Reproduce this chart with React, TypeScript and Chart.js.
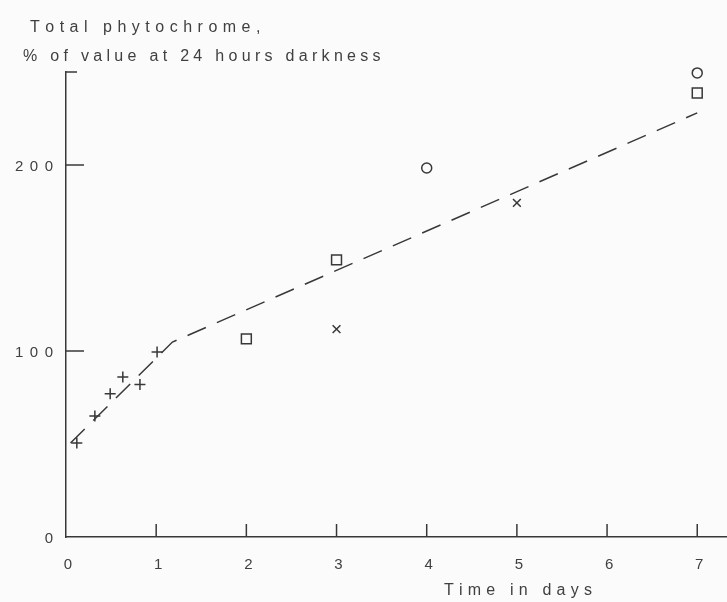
import { useEffect, useRef } from "react";
import { Chart, registerables } from "chart.js";

Chart.register(...registerables);

// ---- data ----
const xTickValues = [0, 1, 2, 3, 4, 5, 6, 7];
const xTickLabels = ["0", "1", "2", "3", "4", "5", "6", "7"];
const yTickValues = [0, 100, 200];
const yTickLabels = ["0", "100", "200"];
const xAxisMax = 7.33;
const yAxisMax = 250;

const plusX = [0.12, 0.32, 0.49, 0.63, 0.82, 1.01];
const plusY = [50.5, 65, 77, 86, 82, 99.5];
const squareX = [2, 3, 7];
const squareY = [106.5, 149, 238.7];
const circleX = [4, 7];
const circleY = [198.4, 249.5];
const crossX = [3, 5];
const crossY = [111.8, 179.6];
const trendX = [0.05, 1.18, 7];
const trendY = [50.5, 104.8, 228];

const titleLine1 = "Total phytochrome,";
const titleLine2 = "% of value at 24 hours darkness";
const xTitle = "Time in days";

const pts = (xs: number[], ys: number[]) => xs.map((x, i) => ({ x, y: ys[i] }));

const INK = "#383838";
const TEXT = "#404040";
const FONT = "'Liberation Sans', Arial, sans-serif";

function drawTracked(
  ctx: CanvasRenderingContext2D,
  text: string,
  x: number,
  y: number,
  tracking: number,
  align: "left" | "center" | "right"
) {
  const chars = Array.from(text);
  const widths = chars.map((c) => ctx.measureText(c).width);
  const total = widths.reduce((a, b) => a + b, 0) + tracking * (chars.length - 1);
  let cx = align === "left" ? x : align === "center" ? x - total / 2 : x - total;
  ctx.textAlign = "left";
  chars.forEach((c, i) => {
    ctx.fillText(c, cx, y);
    cx += widths[i] + tracking;
  });
}

const decorPlugin = {
  id: "decor",
  beforeDraw(chart: any) {
    const ctx = chart.ctx as CanvasRenderingContext2D;
    ctx.save();
    ctx.fillStyle = "#fbfbfb";
    ctx.fillRect(0, 0, chart.width, chart.height);
    ctx.restore();
  },
  afterDraw(chart: any) {
    const ctx = chart.ctx as CanvasRenderingContext2D;
    const xs = chart.scales.x;
    const ys = chart.scales.y;
    const area = chart.chartArea;
    ctx.save();
    ctx.strokeStyle = INK;
    ctx.lineWidth = 1.5;
    // inward x ticks
    xTickValues.forEach((v) => {
      if (v === 0) return;
      const px = xs.getPixelForValue(v);
      ctx.beginPath();
      ctx.moveTo(px, area.bottom);
      ctx.lineTo(px, area.bottom - 13);
      ctx.stroke();
    });
    // inward y ticks
    yTickValues.forEach((v) => {
      if (v === 0) return;
      const py = ys.getPixelForValue(v);
      ctx.beginPath();
      ctx.moveTo(area.left, py);
      ctx.lineTo(area.left + 18, py);
      ctx.stroke();
    });
    // top hook of y axis
    const pTop = ys.getPixelForValue(yAxisMax);
    ctx.beginPath();
    ctx.moveTo(area.left, pTop);
    ctx.lineTo(area.left + 11, pTop);
    ctx.stroke();

    // labels
    ctx.fillStyle = TEXT;
    ctx.textBaseline = "alphabetic";
    ctx.font = `15px ${FONT}`;
    xTickValues.forEach((v, i) => {
      const px = xs.getPixelForValue(v);
      drawTracked(ctx, xTickLabels[i], px + 2, area.bottom + 32, 6, "center");
    });
    yTickValues.forEach((v, i) => {
      const py = ys.getPixelForValue(v);
      drawTracked(ctx, yTickLabels[i], area.left - 13, py + 6, 6.5, "right");
    });
    ctx.font = `16px ${FONT}`;
    drawTracked(ctx, titleLine1, 30, 32, 5.5, "left");
    drawTracked(ctx, titleLine2, 23, 61, 4.3, "left");
    drawTracked(ctx, xTitle, 444, 595, 5.2, "left");
    ctx.restore();
  },
};

export default function App() {
  const ref = useRef<HTMLCanvasElement | null>(null);

  useEffect(() => {
    document.body.style.margin = "0";
    const canvas = ref.current;
    if (!canvas) return;
    const chart = new Chart(canvas, {
      type: "scatter",
      data: {
        datasets: [
          {
            type: "line",
            label: "trend",
            data: pts(trendX, trendY),
            borderColor: INK,
            borderWidth: 1.5,
            borderDash: [20, 12],
            pointRadius: 0,
            fill: false,
            tension: 0,
            clip: false,
          } as any,
          {
            label: "plus",
            data: pts(plusX, plusY),
            pointStyle: "cross",
            pointRadius: 5.5,
            borderColor: INK,
            backgroundColor: "transparent",
            borderWidth: 1.5,
            clip: false,
          } as any,
          {
            label: "square",
            data: pts(squareX, squareY),
            pointStyle: "rect",
            pointRadius: 7,
            borderColor: INK,
            backgroundColor: "transparent",
            borderWidth: 1.5,
            clip: false,
          } as any,
          {
            label: "circle",
            data: pts(circleX, circleY),
            pointStyle: "circle",
            pointRadius: 5,
            borderColor: INK,
            backgroundColor: "transparent",
            borderWidth: 1.5,
            clip: false,
          } as any,
          {
            label: "cross",
            data: pts(crossX, crossY),
            pointStyle: "crossRot",
            pointRadius: 5.5,
            borderColor: INK,
            backgroundColor: "transparent",
            borderWidth: 1.5,
            clip: false,
          } as any,
        ],
      },
      options: {
        animation: false,
        responsive: false,
        devicePixelRatio: 1,
        layout: { autoPadding: false, padding: { top: 72, right: 0, left: 0, bottom: 0 } },
        plugins: {
          legend: { display: false },
          tooltip: { enabled: false },
          title: { display: false },
        },
        scales: {
          x: {
            type: "linear",
            min: 0,
            max: xAxisMax,
            afterBuildTicks: (s: any) => {
              s.ticks = xTickValues.map((value) => ({ value }));
            },
            afterFit: (s: any) => {
              s.height = 65;
              s.paddingLeft = 0;
              s.paddingRight = 0;
            },
            ticks: { display: false },
            grid: { display: true, drawOnChartArea: false, drawTicks: false },
            border: { display: true, color: INK, width: 1.5 },
          },
          y: {
            type: "linear",
            min: 0,
            max: yAxisMax,
            afterBuildTicks: (s: any) => {
              s.ticks = yTickValues.map((value) => ({ value }));
            },
            afterFit: (s: any) => {
              s.width = 66;
              s.paddingTop = 0;
              s.paddingBottom = 0;
            },
            ticks: { display: false },
            grid: { display: true, drawOnChartArea: false, drawTicks: false },
            border: { display: true, color: INK, width: 1.5 },
          },
        },
      } as any,
      plugins: [decorPlugin],
    });
    return () => chart.destroy();
  }, []);

  return <canvas ref={ref} width={727} height={602} style={{ display: "block" }} />;
}
